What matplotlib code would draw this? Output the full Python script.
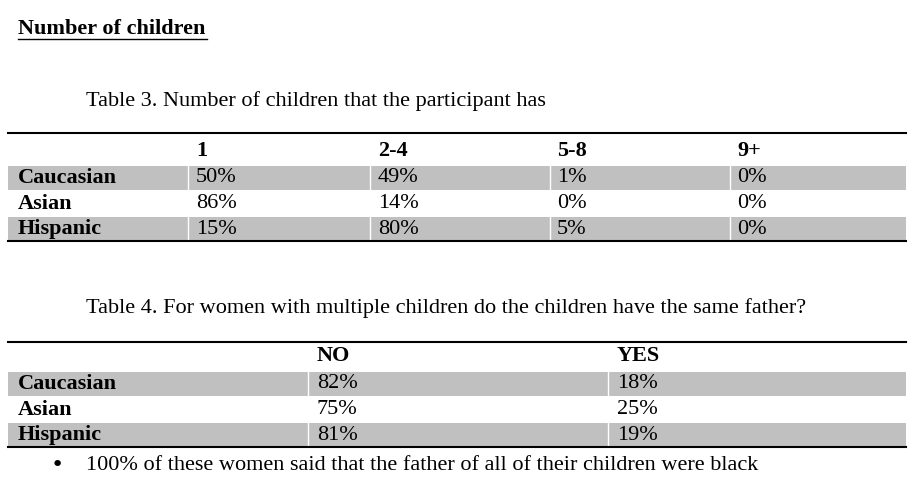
import matplotlib.pyplot as plt
from matplotlib.patches import Rectangle

plt.rcParams['font.family'] = ['Liberation Serif', 'DejaVu Serif']

groups = ['Caucasian', 'Asian', 'Hispanic']
t3_cols = ['1', '2-4', '5-8', '9+']
t3_vals = [['50%', '49%', '1%', '0%'],
           ['86%', '14%', '0%', '0%'],
           ['15%', '80%', '5%', '0%']]
t4_cols = ['NO', 'YES']
t4_vals = [['82%', '18%'],
           ['75%', '25%'],
           ['81%', '19%']]

fig = plt.figure(figsize=(9.13, 4.91), dpi=100)
ax = fig.add_axes([0, 0, 1, 1])
ax.set_xlim(0, 913)
ax.set_ylim(491, 0)
ax.axis('off')

fs = 16
grey = '#c0c0c0'

ax.text(18, 29, 'Number of children', fontsize=fs, fontweight='bold', va='center')
ax.plot([18, 207], [39, 39], color='black', lw=1)

ax.text(86, 101, 'Table 3. Number of children that the participant has', fontsize=fs, va='center')
ax.text(86, 308, 'Table 4. For women with multiple children do the children have the same father?',
        fontsize=fs, va='center')


def draw_table(top, head_y, row_ys, col_xs, cols, vals, seps):
    ax.plot([8, 906], [top, top], color='black', lw=1.5)
    for x, c in zip(col_xs, cols):
        ax.text(x, head_y, c, fontsize=fs, fontweight='bold', va='center')
    for i, (g, y) in enumerate(zip(groups, row_ys)):
        if i != 1:
            ax.add_patch(Rectangle((8, y - 12), 898, 24, color=grey, lw=0))
            for s in seps:
                ax.plot([s, s], [y - 12, y + 12], color='white', lw=1)
        ax.text(18, y, g, fontsize=fs, fontweight='bold', va='center')
        for x, v in zip(col_xs, vals[i]):
            ax.text(x, y, v, fontsize=fs, va='center')
    ax.plot([8, 906], [row_ys[-1] + 12, row_ys[-1] + 12], color='black', lw=1.5)


draw_table(133, 151, [178, 204, 229], [196, 378, 557, 737], t3_cols, t3_vals,
           [188, 370, 550, 730])
draw_table(342, 356, [384, 410, 435], [317, 617], t4_cols, t4_vals, [308, 608])

ax.text(51, 465, '\u2022', fontsize=fs, va='center', family=['DejaVu Sans'])
ax.text(86, 465, '100% of these women said that the father of all of their children were black',
        fontsize=fs, va='center')

fig.savefig('out.png', dpi=100)
